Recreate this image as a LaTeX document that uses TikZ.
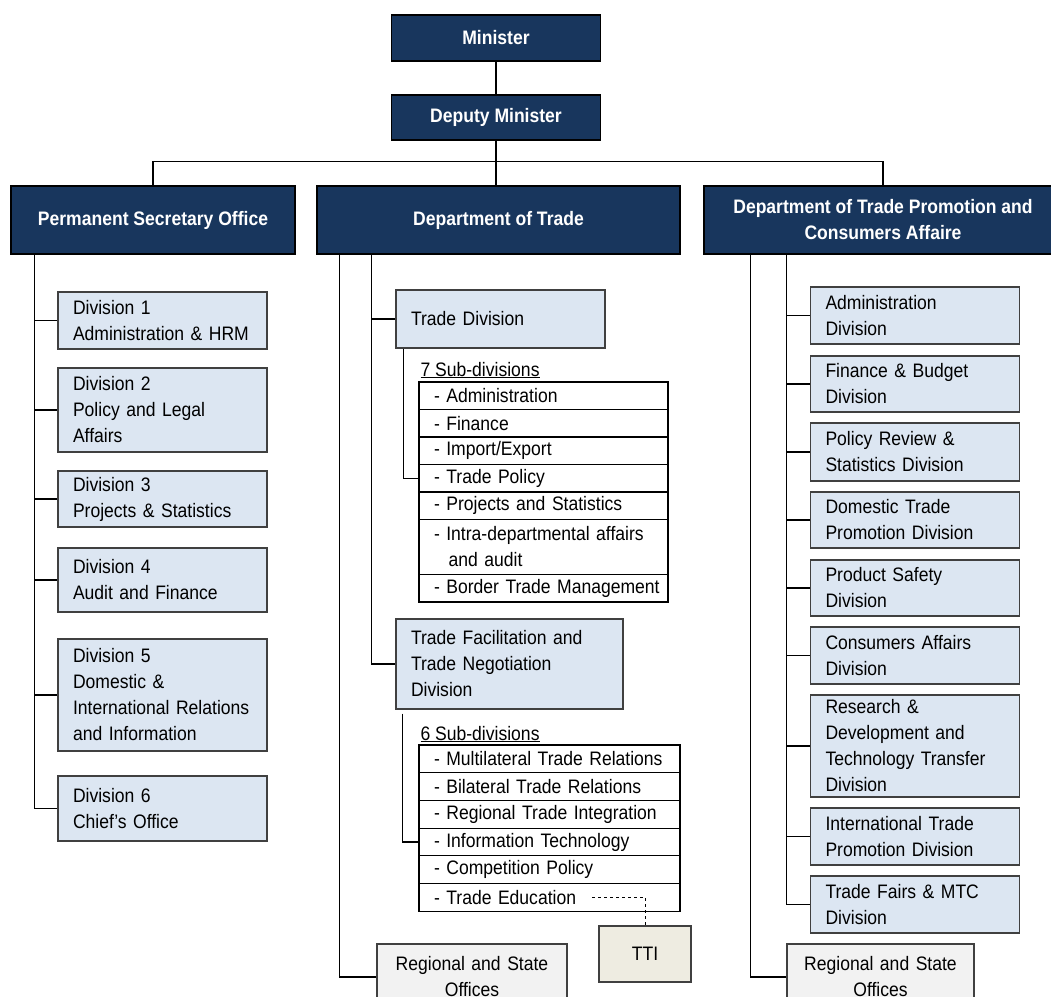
\documentclass[tikz,border=0pt]{standalone}
\usepackage{fontspec}
\setmainfont{Liberation Sans}[FakeStretch=0.9]
\usetikzlibrary{positioning}
\definecolor{headblue}{RGB}{24,54,93}
\definecolor{divblue}{RGB}{220,230,242}
\definecolor{regiongray}{RGB}{242,242,242}
\definecolor{ttitan}{RGB}{238,236,225}
\definecolor{boxline}{RGB}{64,64,64}
\begin{document}
\begin{tikzpicture}[x=1pt,y=-1pt,line width=1.1pt,font=\fontsize{19.5}{26}\selectfont,
  head node/.style={draw=black,fill=headblue,text=white,font=\fontsize{19.5}{26}\selectfont\bfseries,align=center,inner sep=0pt},
  div node/.style={draw=boxline,fill=divblue,align=left,inner xsep=15pt,inner ysep=0pt,text width=#1},
  div node/.default=179pt,
  sub row/.style={draw=black,align=left,inner xsep=15pt,inner ysep=0pt,outer sep=0pt,text width=#1},
  office node/.style={draw=boxline,fill=regiongray,align=center,inner sep=0pt,text width=#1}]
  \useasboundingbox (0,0) rectangle (1051,996);
  \clip (0,0) rectangle (1051,996);

  % top of the chart
  \node[head node,minimum width=209pt,minimum height=46pt] (min) at (496,38) {Minister};
  \node[head node,minimum width=209pt,minimum height=45pt] (dep) at (496,117.5) {Deputy Minister};
  \node[head node,minimum width=284pt,minimum height=68pt] (pso) at (153,220) {Permanent Secretary Office};
  \node[head node,minimum width=363pt,minimum height=68pt] (dot) at (498.5,220) {Department of Trade};
  \node[head node,minimum width=358pt,minimum height=68pt] (dtpc) at (883,220) {Department of Trade Promotion and\\Consumers Affaire};

  % permanent secretary office
  \node[div node,minimum height=57pt] (d1) at (162.5,320.5) {Division 1\\Administration \& HRM};
  \node[div node,minimum height=84pt] (d2) at (162.5,410) {Division 2\\Policy and Legal\\Affairs};
  \node[div node,minimum height=56pt] (d3) at (162.5,499) {Division 3\\Projects \& Statistics};
  \node[div node,minimum height=64pt] (d4) at (162.5,580) {Division 4\\Audit and Finance};
  \node[div node,minimum height=112pt] (d5) at (162.5,695) {Division 5\\Domestic \&\\International Relations\\and Information};
  \node[div node,minimum height=65pt] (d6) at (162.5,808.5) {Division 6\\Chief's Office};

  % department of trade
  \node[div node,minimum height=58pt] (tdiv) at (500.5,319) {Trade Division};
  \node[anchor=base west,inner sep=0pt] (sub7) at (420,376) {\underline{7 Sub-divisions}};
  \node[sub row=219pt,minimum height=27.5pt] (s1) at (543.5,395.75) {- Administration};
  \node[sub row=219pt,minimum height=27.5pt] (s2) [below=0pt of s1] {- Finance};
  \node[sub row=219pt,minimum height=27.5pt] (s3) [below=0pt of s2] {- Import/Export};
  \node[sub row=219pt,minimum height=27.5pt] (s4) [below=0pt of s3] {- Trade Policy};
  \node[sub row=219pt,minimum height=27.5pt] (s5) [below=0pt of s4] {- Projects and Statistics};
  \node[sub row=219pt,minimum height=55pt] (s6) [below=0pt of s5] {- Intra-departmental affairs\\\hspace*{0.75em}and audit};
  \node[sub row=219pt,minimum height=27.5pt] (s7) [below=0pt of s6] {\mbox{- Border Trade Management}};

  \node[div node=197pt,minimum height=90pt] (tfdiv) at (509.5,664) {Trade Facilitation and\\Trade Negotiation\\Division};
  \node[anchor=base west,inner sep=0pt] (sub6) at (420,740) {\underline{6 Sub-divisions}};
  \node[sub row=231pt,minimum height=27.7pt] (t1) at (549.5,758.85) {- Multilateral Trade Relations};
  \node[sub row=231pt,minimum height=27.7pt] (t2) [below=0pt of t1] {- Bilateral Trade Relations};
  \node[sub row=231pt,minimum height=27.7pt] (t3) [below=0pt of t2] {- Regional Trade Integration};
  \node[sub row=231pt,minimum height=27.7pt] (t4) [below=0pt of t3] {- Information Technology};
  \node[sub row=231pt,minimum height=27.7pt] (t5) [below=0pt of t4] {- Competition Policy};
  \node[sub row=231pt,minimum height=27.7pt] (t6) [below=0pt of t5] {- Trade Education};
  \node[draw=boxline,fill=ttitan,minimum width=92pt,minimum height=56pt,inner sep=0pt] (tti) at (645,954) {TTI};
  \node[office node=190pt,minimum height=66pt] (reg1) at (472,977) {Regional and State\\Offices};

  % department of trade promotion and consumers affaire
  \node[div node,minimum height=57pt] (r1) at (915,315.5) {Administration\\Division};
  \node[div node,minimum height=56pt] (r2) at (915,384) {Finance \& Budget\\Division};
  \node[div node,minimum height=58pt] (r3) at (915,452) {Policy Review \&\\Statistics Division};
  \node[div node,minimum height=56pt] (r4) at (915,520) {Domestic Trade\\Promotion Division};
  \node[div node,minimum height=56pt] (r5) at (915,588) {Product Safety\\Division};
  \node[div node,minimum height=57pt] (r6) at (915,655.5) {Consumers Affairs\\Division};
  \node[div node,minimum height=102pt] (r7) at (915,746) {Research \&\\Development and\\Technology Transfer\\Division};
  \node[div node,minimum height=57pt] (r8) at (915,836.5) {International Trade\\Promotion Division};
  \node[div node,minimum height=57pt] (r9) at (915,904.5) {Trade Fairs \& MTC\\Division};
  \node[office node=187pt,minimum height=66pt] (reg2) at (880.5,977) {Regional and State\\Offices};

  % connectors
  \draw (min) -- (dep);
  \draw (dep.south) -- (dep.south |- dot.north);
  \draw (pso.north) -- ++(0,-24) -| (dtpc.north);
  \foreach \d in {d1,d2,d3,d4,d5,d6}
    \draw ([xshift=24pt]pso.south west) |- (\d.west);
  \draw ([xshift=23pt]dot.south west) |- (reg1.west);
  \foreach \d in {tdiv,tfdiv}
    \draw ([xshift=55pt]dot.south west) |- (\d.west);
  \draw ([xshift=8pt]tdiv.south west) |- (s4.west);
  \draw ([xshift=7pt,yshift=-4pt]tfdiv.south west) |- (t4.west);
  \draw[dashed,line width=0.8pt] ([xshift=-88pt]t6.east) -| (tti.north);
  \draw ([xshift=47pt]dtpc.south west) |- (reg2.west);
  \foreach \i in {1,...,9}
    \draw ([xshift=83pt]dtpc.south west) |- (r\i.west);
\end{tikzpicture}
\end{document}
